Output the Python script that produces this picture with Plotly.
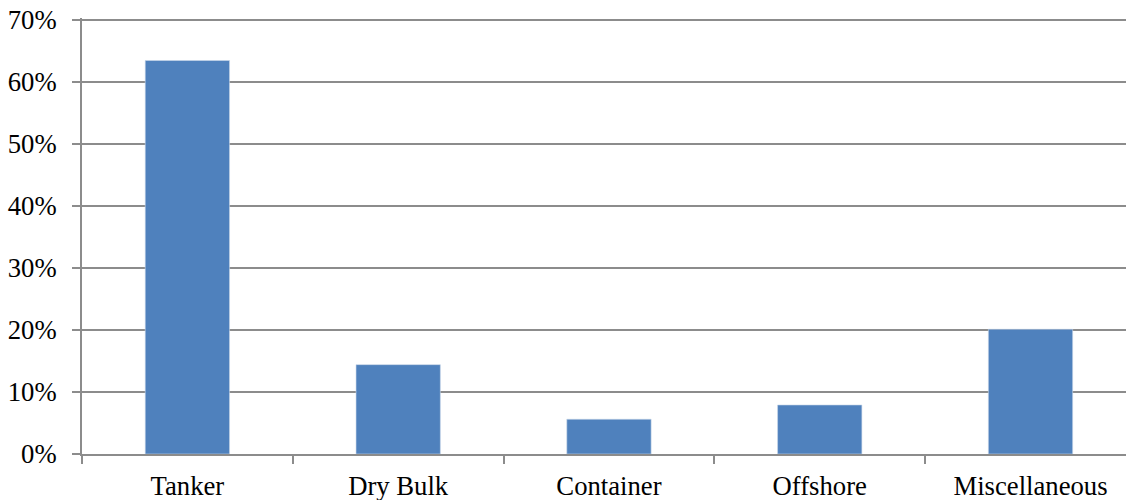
import plotly.graph_objects as go

categories = ["Tanker", "Dry Bulk", "Container", "Offshore", "Miscellaneous"]
shares = [0.634, 0.144, 0.056, 0.079, 0.201]
y_ticks = [0, 0.1, 0.2, 0.3, 0.4, 0.5, 0.6, 0.7]

bar_color = "#4F81BD"
grid_color = "#8C8C8C"
font = dict(family="Liberation Serif, Times New Roman, serif", size=26.7, color="black")

fig = go.Figure(
    go.Bar(
        x=categories, y=shares,
        marker=dict(color=bar_color, line=dict(color="#C9D7EA", width=0.6)),
        hoverinfo="skip",
    )
)

fig.update_layout(
    width=1126, height=500,
    margin=dict(l=82, r=0, t=18, b=46),
    paper_bgcolor="white", plot_bgcolor="white",
    font=font, bargap=0.6, showlegend=False,
)

# last category is partly cut off by the right edge, like the original
fig.update_xaxes(
    range=[-0.5, 4.453], automargin=False,
    showline=True, linecolor=grid_color, linewidth=2,
    ticks="outside", tickson="boundaries", ticklen=8, tickwidth=1.5, tickcolor=grid_color,
    showgrid=False, ticklabelstandoff=7, ticklabeloverflow="allow",
)
# a hair over 70% so the top gridline isn't clipped
fig.update_yaxes(
    range=[0, 0.7025], tickvals=y_ticks, tickformat=".0%", automargin=False,
    showline=True, linecolor=grid_color, linewidth=2,
    ticks="outside", ticklen=8, tickwidth=1.5, tickcolor=grid_color,
    showgrid=True, gridcolor=grid_color, gridwidth=2,
    zeroline=False, ticklabelstandoff=10, ticklabeloverflow="allow",
)

# drop the default 8px body margin so the figure fills the window
fig.write_html(
    "out.html",
    config={"displayModeBar": False},
    post_script="document.body.style.margin='0';",
)
